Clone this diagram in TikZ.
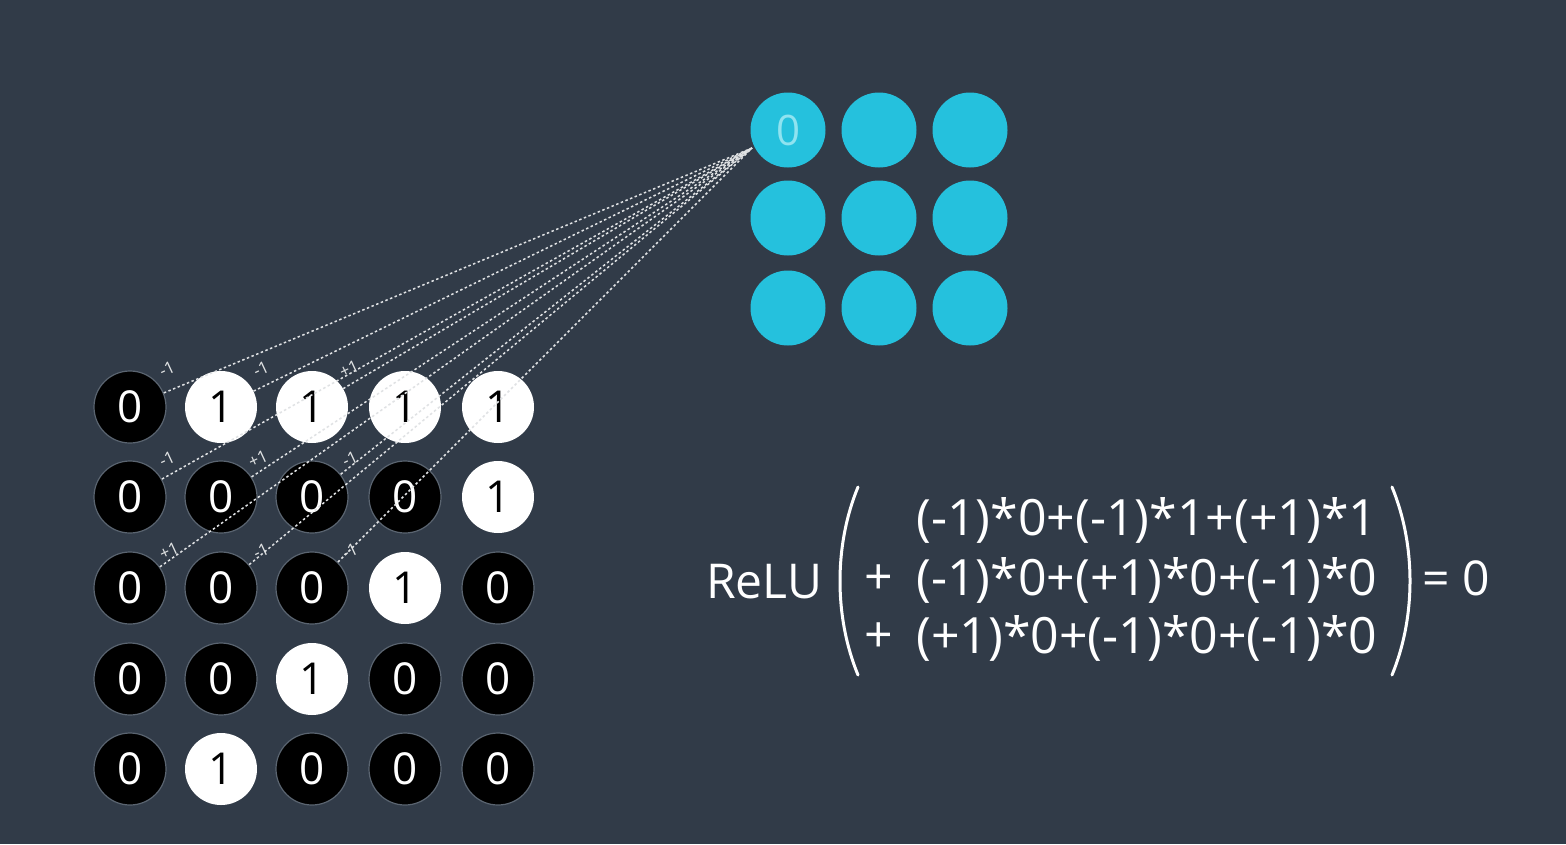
\documentclass[tikz,border=0pt]{standalone}
\usepackage{fontspec}
\setmainfont{Open Sans}
\usetikzlibrary{calc}
\definecolor{bg}{HTML}{313B48}
\definecolor{cy}{HTML}{25C1DD}
\definecolor{cyt}{HTML}{8FE3F0}
\definecolor{ring}{HTML}{5A6470}
\begin{document}
\begin{tikzpicture}[x=1pt,y=-1pt,
  pix/.style={circle,minimum size=72pt,inner sep=0pt,font=\fontsize{44}{44}\selectfont},
  off/.style={pix,fill=black,draw=ring,line width=1.2pt,text=white},
  on/.style={pix,fill=white,text=black},
  outc/.style={circle,minimum size=75pt,inner sep=0pt,fill=cy},
  link/.style={draw=white!85!bg,dash pattern=on 2.5pt off 2.5pt,line width=1.5pt},
  wlab/.style={font=\fontsize{17}{17}\selectfont,text=white!85!bg,rotate=25,inner sep=0pt},
  ftxt/.style={font=\fontsize{48}{56}\selectfont,text=white,inner sep=0pt},
  etxt/.style={font=\fontsize{50}{56}\selectfont,text=white,inner sep=0pt},
  paren/.style={draw=white,line width=3pt,line cap=round}
]
\fill[bg] (0,0) rectangle (1566,844);
\useasboundingbox (0,0) rectangle (1566,844);

% input grid
\node[off] (i00) at (130,407) {0};
\node[on]  (i01) at (221,407) {1};
\node[on]  (i02) at (312,407) {1};
\node[on]  (i03) at (405,407) {1};
\node[on]  (i04) at (498,407) {1};
\node[off] (i10) at (130,497) {0};
\node[off] (i11) at (221,497) {0};
\node[off] (i12) at (312,497) {0};
\node[off] (i13) at (405,497) {0};
\node[on]  (i14) at (498,497) {1};
\node[off] (i20) at (130,588) {0};
\node[off] (i21) at (221,588) {0};
\node[off] (i22) at (312,588) {0};
\node[on]  (i23) at (405,588) {1};
\node[off] (i24) at (498,588) {0};
\node[off] (i30) at (130,679) {0};
\node[off] (i31) at (221,679) {0};
\node[on]  (i32) at (312,679) {1};
\node[off] (i33) at (405,679) {0};
\node[off] (i34) at (498,679) {0};
\node[off] (i40) at (130,769) {0};
\node[on]  (i41) at (221,769) {1};
\node[off] (i42) at (312,769) {0};
\node[off] (i43) at (405,769) {0};
\node[off] (i44) at (498,769) {0};

% output grid
\node[outc,text=cyt,font=\fontsize{42}{42}\selectfont] (o00) at (788,130) {0};
\node[outc] (o01) at (879,130) {};
\node[outc] (o02) at (970,130) {};
\node[outc] (o10) at (788,218) {};
\node[outc] (o11) at (879,218) {};
\node[outc] (o12) at (970,218) {};
\node[outc] (o20) at (788,308) {};
\node[outc] (o21) at (879,308) {};
\node[outc] (o22) at (970,308) {};

\coordinate (tip) at (752,148);

% connections
\draw[link] (i00) -- (tip);
\draw[link] (i01) -- (tip);
\draw[link] (i02) -- (tip);
\draw[link] (i10) -- (tip);
\draw[link] (i11) -- (tip);
\draw[link] (i12) -- (tip);
\draw[link] (i20) -- (tip);
\draw[link] (i21) -- (tip);
\draw[link] (i22) -- (tip);

% weights
\node[wlab] (w00) at ($(i00)+(37,-38)$) {-1};
\node[wlab] (w01) at ($(i01)+(40,-38)$) {-1};
\node[wlab] (w02) at ($(i02)+(37,-38)$) {+1};
\node[wlab] (w10) at ($(i10)+(37,-38)$) {-1};
\node[wlab] (w11) at ($(i11)+(37,-38)$) {+1};
\node[wlab] (w12) at ($(i12)+(38,-38)$) {-1};
\node[wlab] (w20) at ($(i20)+(39,-37)$) {+1};
\node[wlab] (w21) at ($(i21)+(40,-37)$) {-1};
\node[wlab] (w22) at ($(i22)+(38,-37)$) {-1};

% formula
\node[ftxt,anchor=west] (relu) at (706,582) {ReLU};
\node[etxt,anchor=west] (row1) at (916,520) {(-1)*0+(-1)*1+(+1)*1};
\node[etxt,anchor=west] (p2) at (864,580) {+};
\node[etxt,anchor=west] (row2) at (916,580) {(-1)*0+(+1)*0+(-1)*0};
\node[etxt,anchor=west] (p3) at (864,638) {+};
\node[etxt,anchor=west] (row3) at (916,638) {(+1)*0+(-1)*0+(-1)*0};
\node[ftxt,anchor=west] (res) at (1422,578) {= 0};
\draw[paren] (858,487) .. controls (834,545) and (834,617) .. (858,675);
\draw[paren] (1392,487) .. controls (1416,545) and (1416,617) .. (1392,675);
\end{tikzpicture}
\end{document}
